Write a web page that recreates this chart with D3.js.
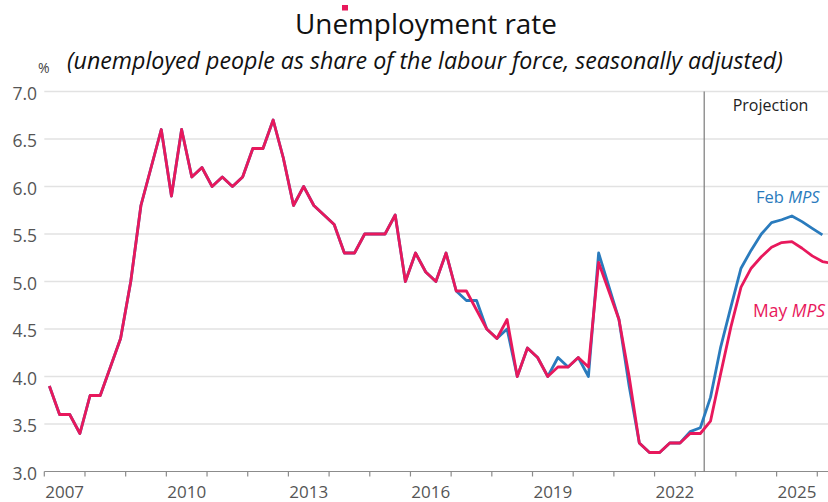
<!DOCTYPE html>
<html>
<head>
<meta charset="utf-8">
<script src="https://cdn.jsdelivr.net/npm/d3@7"></script>
<style>
  body { margin: 0; background: #fff; }
  svg { display: block; font-family: "Open Sans", "Noto Sans", sans-serif; }
</style>
</head>
<body>
<svg id="chart"></svg>
<script>
// quarterly data, first point = 2007 Q1
const startYear = 2007;
const mayMPS = [
  3.9, 3.6, 3.6, 3.4,   3.8, 3.8, 4.1, 4.4,   5.0, 5.8, 6.2, 6.6,
  5.9, 6.6, 6.1, 6.2,   6.0, 6.1, 6.0, 6.1,   6.4, 6.4, 6.7, 6.3,
  5.8, 6.0, 5.8, 5.7,   5.6, 5.3, 5.3, 5.5,   5.5, 5.5, 5.7, 5.0,
  5.3, 5.1, 5.0, 5.3,   4.9, 4.9, 4.7, 4.5,   4.4, 4.6, 4.0, 4.3,
  4.2, 4.0, 4.1, 4.1,   4.2, 4.1, 5.2, 4.9,   4.6, 4.0, 3.3, 3.2,
  3.2, 3.3, 3.3, 3.4,   3.4, 3.53, 4.03, 4.52, 4.94, 5.14, 5.26, 5.36,
  5.41, 5.42, 5.35, 5.27, 5.21, 5.19
];
const febMPS = [
  3.9, 3.6, 3.6, 3.4,   3.8, 3.8, 4.1, 4.4,   5.0, 5.8, 6.2, 6.6,
  5.9, 6.6, 6.1, 6.2,   6.0, 6.1, 6.0, 6.1,   6.4, 6.4, 6.7, 6.3,
  5.8, 6.0, 5.8, 5.7,   5.6, 5.3, 5.3, 5.5,   5.5, 5.5, 5.7, 5.0,
  5.3, 5.1, 5.0, 5.3,   4.9, 4.8, 4.8, 4.5,   4.4, 4.5, 4.0, 4.3,
  4.2, 4.0, 4.2, 4.1,   4.2, 4.0, 5.3, 4.95,  4.6, 3.9, 3.3, 3.2,
  3.2, 3.3, 3.3, 3.42,  3.46, 3.78, 4.31, 4.73, 5.14, 5.33, 5.50, 5.62,
  5.65, 5.69, 5.63, 5.56, 5.49
];
const yTicks = [3.0, 3.5, 4.0, 4.5, 5.0, 5.5, 6.0, 6.5, 7.0];
const yearTicks = d3.range(2007, 2027);
const yearLabels = [2007, 2010, 2013, 2016, 2019, 2022, 2025];
const projectionStart = 2023.22;

class LineChart {
  margin = { top: 91.5, right: 0, bottom: 30.5, left: 44.3 }

  constructor(svg, width = 828, height = 502) {
    this.svg = d3.select(svg);
    this.width = width;
    this.height = height;
  }

  fit(sel, w) {
    var cur = sel.node().getComputedTextLength();
    var fs = parseFloat(sel.style("font-size"));
    sel.style("font-size", (fs * w / cur) + "px");
  }

  draw() {
    this.svg.attr("width", this.width).attr("height", this.height);
    var x = d3.scaleLinear().domain([2007, 2026]).range([this.margin.left, 817.3]);
    var y = d3.scaleLinear().domain([3, 7]).range([this.height - this.margin.bottom, this.margin.top]);
    var t = (i) => startYear + (i + 0.5) / 4;

    // grid
    this.svg.append("g")
      .selectAll("line")
      .data(yTicks.filter(d => d > 3))
      .join("line")
      .attr("x1", x(2007)).attr("x2", this.width)
      .attr("y1", d => y(d)).attr("y2", d => y(d))
      .attr("stroke", "#e2e2e2")
      .attr("stroke-width", 1.3);

    // y labels
    this.svg.append("g")
      .selectAll("text")
      .data(yTicks)
      .join("text")
      .attr("x", 37)
      .attr("y", d => y(d) + 8)
      .attr("text-anchor", "end")
      .style("font-size", "17.5px")
      .attr("fill", "#555")
      .text(d => d.toFixed(1));

    // x axis
    var axis = this.svg.append("g").attr("transform", `translate(0,${y(3)})`);
    axis.append("line")
      .attr("x1", x(2007)).attr("x2", this.width)
      .attr("stroke", "#8c8c8c").attr("stroke-width", 1.2);
    axis.selectAll("line.tick")
      .data(yearTicks)
      .join("line")
      .attr("class", "tick")
      .attr("x1", d => x(d)).attr("x2", d => x(d))
      .attr("y1", 0).attr("y2", 5)
      .attr("stroke", "#8c8c8c").attr("stroke-width", 1.2);
    axis.selectAll("text")
      .data(yearLabels)
      .join("text")
      .attr("x", d => x(d + 0.5))
      .attr("y", 26.5)
      .attr("text-anchor", "middle")
      .style("font-size", "17px")
      .attr("fill", "#555")
      .text(d => d);

    // projection marker
    this.svg.append("line")
      .attr("x1", x(projectionStart)).attr("x2", x(projectionStart))
      .attr("y1", y(7)).attr("y2", y(3))
      .attr("stroke", "#7a7a7a").attr("stroke-width", 1.2);
    this.svg.append("text")
      .attr("x", 770.5).attr("y", 111)
      .attr("text-anchor", "middle")
      .style("font-size", "16px")
      .attr("fill", "#222")
      .text("Projection");

    // lines
    var line = d3.line().x((d, i) => x(t(i))).y(d => y(d));
    this.svg.append("path")
      .datum(febMPS)
      .attr("d", line)
      .attr("fill", "none")
      .attr("stroke", "#2a7bbd")
      .attr("stroke-width", 2.8)
      .attr("stroke-linejoin", "round");
    this.svg.append("path")
      .datum(mayMPS)
      .attr("d", line)
      .attr("fill", "none")
      .attr("stroke", "#e8185c")
      .attr("stroke-width", 2.8)
      .attr("stroke-linejoin", "round");

    var feb = this.svg.append("text")
      .attr("x", 756).attr("y", 203)
      .style("font-size", "16.5px")
      .attr("fill", "#2a7bbd");
    feb.append("tspan").text("Feb ");
    feb.append("tspan").style("font-style", "italic").text("MPS");

    var may = this.svg.append("text")
      .attr("x", 753).attr("y", 316.5)
      .style("font-size", "17.5px")
      .attr("fill", "#e8185c");
    may.append("tspan").text("May ");
    may.append("tspan").style("font-style", "italic").text("MPS");

    // titles
    var title = this.svg.append("text")
      .attr("x", 295).attr("y", 34)
      .style("font-size", "29px")
      .attr("fill", "#111")
      .text("Unemployment rate");
    this.fit(title, 262);
    this.svg.append("rect")
      .attr("x", 342).attr("y", 5).attr("width", 6).attr("height", 5.5)
      .attr("fill", "#e8185c");

    var sub = this.svg.append("text")
      .attr("x", 67).attr("y", 69)
      .style("font-size", "21px")
      .style("font-style", "italic")
      .attr("fill", "#111")
      .text("(unemployed people as share of the labour force, seasonally adjusted)");
    this.fit(sub, 716);

    this.svg.append("text")
      .attr("x", 38).attr("y", 73)
      .style("font-size", "14px")
      .attr("fill", "#444")
      .text("%");
  }
}

var chart = new LineChart("#chart");
chart.draw();
</script>
</body>
</html>
